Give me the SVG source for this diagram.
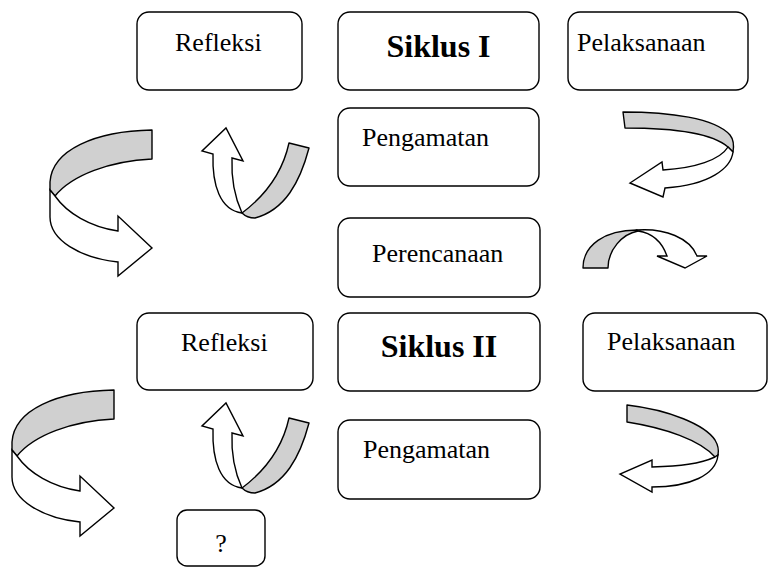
<svg xmlns="http://www.w3.org/2000/svg" width="773" height="568" viewBox="0 0 773 568">
<style>
.box{fill:#fff;stroke:#000;stroke-width:1.4}
.t{font-family:"Liberation Serif","Times New Roman",serif;font-size:26px;fill:#000}
.b{font-family:"Liberation Serif","Times New Roman",serif;font-size:32px;font-weight:bold;fill:#000}
.g{fill:#d0d0d0;stroke:#000;stroke-width:1.4;stroke-linejoin:round}
.w{fill:#fff;stroke:#000;stroke-width:1.4;stroke-linejoin:miter}
</style>
<rect width="773" height="568" fill="#fff"/>
<g id="connectors">
  <g id="arrowA">
    <path class="g" d="M152,130 L152,159 C110,161 72,175 55,196 L50,190 L50,182 C52,150 95,131 152,130 Z"/>
    <path class="w" d="M55,196 C67,213 90,227 118,231 L118,216 L152,248 L118,276 L118,262 C80,258 50,240 50,217 L50,190 Z"/>
  </g>
  <g id="arrowB" transform="translate(-38,260)">
    <path class="g" d="M152,130 L152,159 C110,161 72,175 55,196 L50,190 L50,182 C52,150 95,131 152,130 Z"/>
    <path class="w" d="M55,196 C67,213 90,227 118,231 L118,216 L152,248 L118,276 L118,262 C80,258 50,240 50,217 L50,190 Z"/>
  </g>
  <g id="arrowC">
    <path class="g" d="M289,143 L309,148 C300,182 285,210 255,218 C250,218 245,216 242,213 C262,198 282,175 289,143 Z"/>
    <path class="w" d="M232,158 L243,161 L226,128 L202,151 L213,154 C212,185 220,210 242,213 C236,200 231,182 232,158 Z"/>
  </g>
  <g id="arrowD" transform="translate(0,275)">
    <path class="g" d="M289,143 L309,148 C300,182 285,210 255,218 C250,218 245,216 242,213 C262,198 282,175 289,143 Z"/>
    <path class="w" d="M232,158 L243,161 L226,128 L202,151 L213,154 C212,185 220,210 242,213 C236,200 231,182 232,158 Z"/>
  </g>
  <g id="arrowE">
    <path class="g" d="M623,112 C670,112 715,118 730,135 C734,140 734,146 733,152 L728,147 C712,133 670,128 625,128 Z"/>
    <path class="w" d="M728,147 L733,152 C731,168 710,185 665,188 L663,197 L630,183 L662,162 L663,170 C695,168 720,160 728,147 Z"/>
  </g>
  <g id="arrowF">
    <path class="g" d="M627,405 C670,410 705,425 715,440 C718,445 719,450 718,455 L715,457 C700,440 665,428 627,422 Z"/>
    <path class="w" d="M715,457 C700,464 680,466 652,467 L652,460 L620,474 L652,492 L652,487 C690,487 716,475 718,455 Z"/>
  </g>
  <g id="arrowG">
    <path class="g" d="M583,268 C583,245 605,230 637,230 L638,231 C622,234 608,250 608,268 Z"/>
    <path class="w" d="M637,230 C665,228 690,238 697,256 L707,256 L685,268 L657,256 L667,256 C662,242 652,233 638,231 Z"/>
  </g>
</g>
<g id="refleksi1"><rect class="box" x="137" y="12" width="165" height="78" rx="12"/><text class="t" x="175" y="51">Refleksi</text></g>
<g id="siklus1"><rect class="box" x="338" y="12" width="201" height="78" rx="12"/><text class="b" x="438.5" y="57" text-anchor="middle">Siklus I</text></g>
<g id="pelaksanaan1"><rect class="box" x="568" y="12" width="180" height="78" rx="12"/><text class="t" x="577" y="51">Pelaksanaan</text></g>
<g id="pengamatan1"><rect class="box" x="338" y="108" width="201" height="78" rx="12"/><text class="t" x="362" y="146">Pengamatan</text></g>
<g id="perencanaan"><rect class="box" x="338" y="218" width="202" height="79" rx="12"/><text class="t" x="372" y="262">Perencanaan</text></g>
<g id="refleksi2"><rect class="box" x="137" y="313" width="176" height="77" rx="12"/><text class="t" x="181" y="351">Refleksi</text></g>
<g id="siklus2"><rect class="box" x="338" y="313" width="202" height="78" rx="12"/><text class="b" x="439" y="357" text-anchor="middle">Siklus II</text></g>
<g id="pelaksanaan2"><rect class="box" x="583" y="313" width="184" height="78" rx="12"/><text class="t" x="607" y="350">Pelaksanaan</text></g>
<g id="pengamatan2"><rect class="box" x="338" y="420" width="202" height="79" rx="12"/><text class="t" x="363" y="458">Pengamatan</text></g>
<g id="question"><rect class="box" x="177" y="510" width="88" height="56" rx="10"/><text class="t" x="221" y="552" text-anchor="middle">?</text></g>
</svg>
